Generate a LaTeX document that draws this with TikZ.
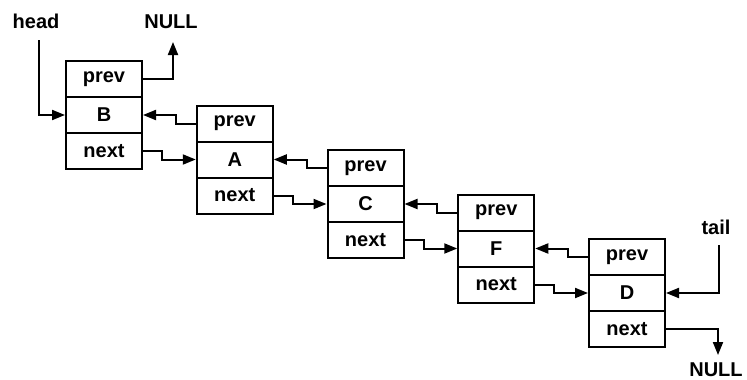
\documentclass[tikz,border=0pt]{standalone}
\usepackage{fontspec}
\setmainfont{Liberation Sans}
\usetikzlibrary{arrows.meta}
\begin{document}
\begin{tikzpicture}[x=1pt,y=-1pt,
  cell/.style={draw,line width=2pt,minimum width=76pt,minimum height=36pt,
    inner sep=0pt,font=\fontsize{20}{20}\selectfont\bfseries},
  lbl/.style={inner sep=0pt,anchor=base,font=\fontsize{20}{20}\selectfont\bfseries},
  arr/.style={line width=2pt,-{Triangle[length=13pt,width=10pt]}}]
\useasboundingbox (0,0) rectangle (747,380);

% the five list elements, each a column of three cells
\foreach \i/\v in {1/B,2/A,3/C,4/F,5/D}{
  \pgfmathsetmacro{\cx}{104+130.75*(\i-1)}
  \pgfmathsetmacro{\cy}{79+44.5*(\i-1)}
  \node[cell] (p\i) at (\cx,\cy) {prev};
  \node[cell] (d\i) at (\cx,\cy+36) {\v};
  \node[cell] (n\i) at (\cx,\cy+72) {next};
}

% labels
\node[lbl] (head) at (36,28) {head};
\node[lbl] (null1) at (171,28) {NULL};
\node[lbl] (tail) at (716,234) {tail};
\node[lbl,anchor=north] (null2) at (716,363) {NULL};

% head pointer and first prev
\draw[arr,shorten <=12pt] ([xshift=3pt]head.base) |- (d1.west);
\draw[arr,shorten >=14pt] (p1.east) -| ([xshift=2pt]null1.base);

% links between consecutive elements
\foreach \i/\j in {1/2,2/3,3/4,4/5}{
  \draw[arr] (p\j.west) -- ++(-20,0) |- (d\i.east);
  \draw[arr] (n\i.east) -- ++(19,0) |- (d\j.west);
}

% tail pointer and last next
\draw[arr,shorten <=11pt] ([xshift=3pt]tail.base) |- (d5.east);
\draw[arr,shorten >=8pt] (n5.east) -| ([xshift=2pt]null2.north);
\end{tikzpicture}
\end{document}
